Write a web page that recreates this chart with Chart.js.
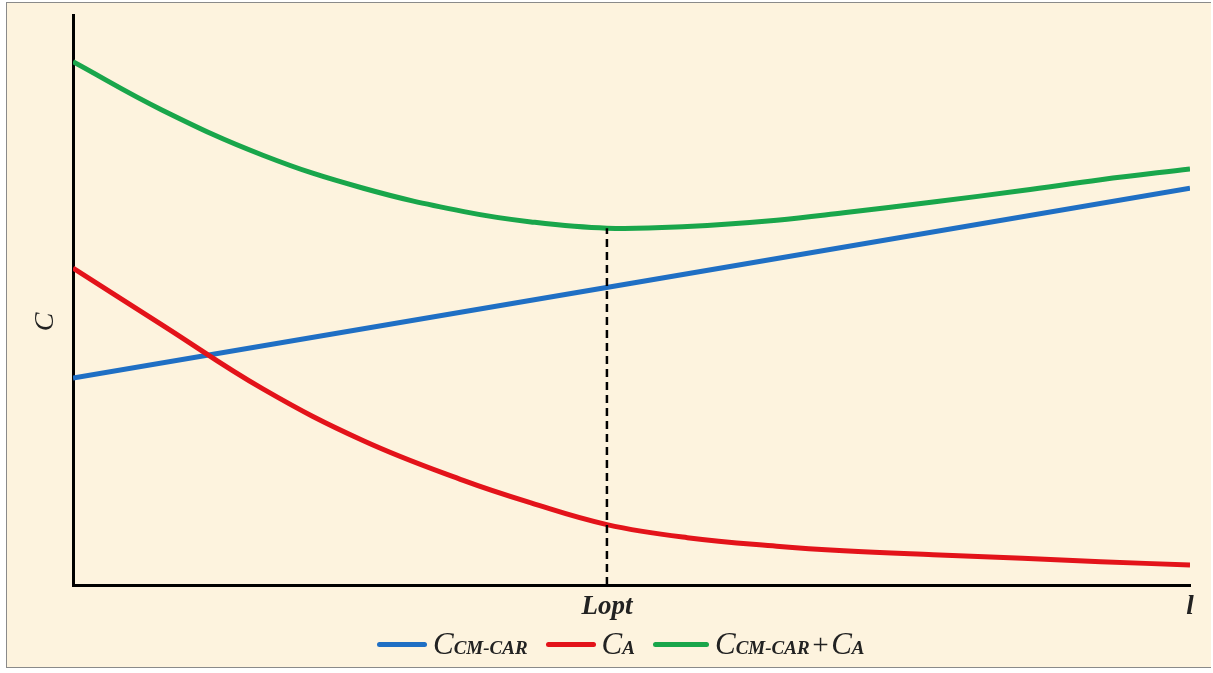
<!DOCTYPE html>
<html>
<head>
<meta charset="utf-8">
<script src="https://cdn.jsdelivr.net/npm/chart.js@4/dist/chart.umd.min.js"></script>
<style>
    html, body { margin: 0; padding: 0; background: #fff; }
    #frame { position: absolute; left: 6px; top: 2px; width: 1205px; height: 666px; border: 1px solid #8a8a8a; border-right: none; background: #fdf3de; box-sizing: border-box; }
    #wrap { position: absolute; left: 0; top: 0; width: 1213px; height: 673px; }
    #legend { position: absolute; left: 377px; top: 626px; display: flex; align-items: center; font-family: "Liberation Serif", "DejaVu Serif", serif; font-style: italic; color: #222; white-space: nowrap; }
    .item { display: flex; align-items: center; margin-right: 18px; }
    .swatch { display: inline-block; width: 50px; height: 5px; border-radius: 3px; margin-right: 6px; }
    .item:last-child .swatch { width: 56px; }
    .main { font-size: 31px; }
    .sub { font-size: 19px; font-weight: bold; }
    .plus { font-size: 29px; margin: 0 1px; }
</style>
</head>
<body>
<div id="frame"></div>
<div id="wrap"><canvas id="costChart" width="1213" height="673"></canvas></div>
<div id="legend"></div>
<script>
// Posisi sumbu x (0..100) dan nilai tiap kurva (0..100)
const xPos = [0, 8, 17, 26, 35, 41, 47.8, 55, 63, 69, 77, 85, 92, 100];
const totalCost = [91.8, 83.3, 75.4, 69.6, 65.5, 63.7, 62.6, 62.9, 64.0, 65.3, 67.2, 69.2, 71.1, 73.0];
const costA = [55.6, 45.6, 34.4, 25.3, 18.3, 14.4, 10.6, 8.3, 6.8, 6.0, 5.3, 4.7, 4.1, 3.5];
const carX = [0, 100];
const costCar = [36.3, 69.6];
const optX = [47.8, 47.8];
const optY = [0, 62.6];
const tickValues = [47.8, 100];
const tickLabels = ['Lopt', 'l'];
const seriesNames = ['CCM-CAR', 'CA', 'CCM-CAR+CA'];
// bagian label legenda: [teks, kelas]
const legendParts = [
    [['C', 'main'], ['CM-CAR', 'sub']],
    [['C', 'main'], ['A', 'sub']],
    [['C', 'main'], ['CM-CAR', 'sub'], ['+', 'plus'], ['C', 'main'], ['A', 'sub']]
];
const colors = ['#1f6fc4', '#e3131a', '#19a64b'];

function toPoints(xs, ys) { return xs.map((x, i) => ({ x: x, y: ys[i] })); }

const axisTitlePlugin = {
    id: 'axisTitle',
    afterDraw(chart) {
        const ctx = chart.ctx;
        ctx.save();
        ctx.translate(46, 322);
        ctx.rotate(-Math.PI / 2);
        ctx.font = 'italic 28px "Liberation Serif", serif';
        ctx.fillStyle = '#222';
        ctx.textAlign = 'center';
        ctx.textBaseline = 'middle';
        ctx.fillText('C', 0, 0);
        ctx.restore();
    }
};

const lineOpts = { fill: false, pointRadius: 0, borderWidth: 5, tension: 0.4, borderCapStyle: 'butt' };

const chart = new Chart(document.getElementById('costChart'), {
    type: 'line',
    data: {
        datasets: [
            { label: 'Lopt', data: toPoints(optX, optY), borderColor: '#000', borderWidth: 2.5, borderDash: [8, 5], pointRadius: 0, fill: false },
            Object.assign({ label: seriesNames[1], data: toPoints(xPos, costA), borderColor: colors[1] }, lineOpts),
            Object.assign({ label: seriesNames[0], data: toPoints(carX, costCar), borderColor: colors[0] }, lineOpts),
            Object.assign({ label: seriesNames[2], data: toPoints(xPos, totalCost), borderColor: colors[2] }, lineOpts)
        ]
    },
    options: {
        responsive: false,
        animation: false,
        layout: { padding: { top: 15, right: 23, left: 0, bottom: 0 } },
        plugins: { legend: { display: false }, tooltip: { enabled: false }, title: { display: false } },
        scales: {
            x: {
                type: 'linear', min: 0, max: 100,
                grid: { display: false, drawTicks: false },
                border: { display: true, color: '#000', width: 3 },
                afterBuildTicks: (scale) => { scale.ticks = tickValues.map(v => ({ value: v })); },
                afterFit: (scale) => { scale.height = 88; },
                ticks: {
                    autoSkip: false, maxRotation: 0, padding: 6, color: '#222',
                    font: { family: '"Liberation Serif", serif', size: 27, style: 'italic', weight: 'bold' },
                    callback: (v, i) => tickLabels[i]
                }
            },
            y: {
                min: 0, max: 100,
                grid: { display: false, drawTicks: false },
                border: { display: true, color: '#000', width: 3 },
                ticks: { display: false },
                afterFit: (scale) => { scale.width = 73; }
            }
        }
    },
    plugins: [axisTitlePlugin]
});

// Legenda HTML (pakai warna dari dataset)
const legendEl = document.getElementById('legend');
[2, 1, 3].forEach((dsIdx, k) => {
    const ds = chart.data.datasets[dsIdx];
    const item = document.createElement('div');
    item.className = 'item';
    let html = `<span class="swatch" style="background:${ds.borderColor}"></span><span>`;
    legendParts[k].forEach(([t, cls]) => { html += `<span class="${cls}">${t}</span>`; });
    item.innerHTML = html + '</span>';
    legendEl.appendChild(item);
});
</script>
</body>
</html>
